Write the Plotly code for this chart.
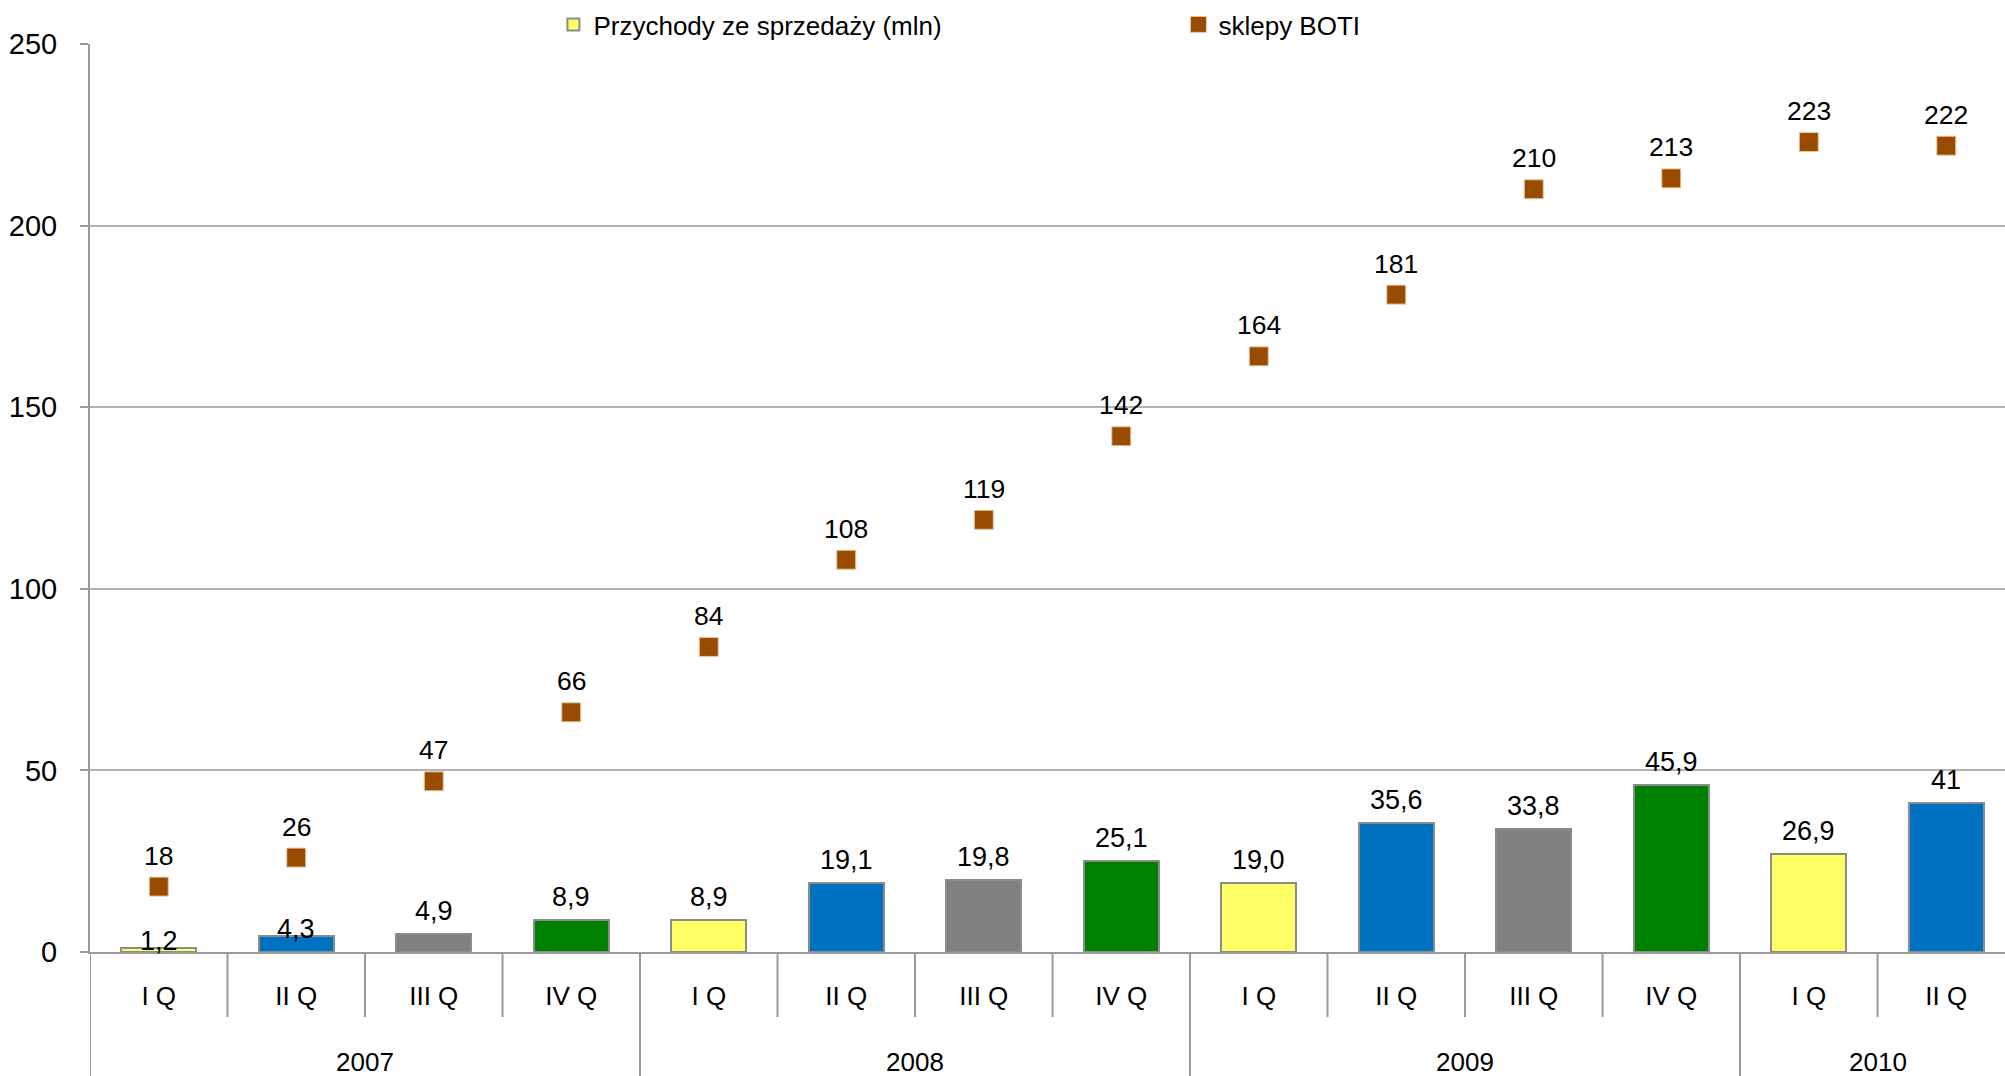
import plotly.graph_objects as go

# Quarterly data: sales revenue (mln) and number of BOTI shops
years = ["2007"] * 4 + ["2008"] * 4 + ["2009"] * 4 + ["2010"] * 2
quarters = ["I Q", "II Q", "III Q", "IV Q"] * 3 + ["I Q", "II Q"]
revenue = [1.2, 4.3, 4.9, 8.9, 8.9, 19.1, 19.8, 25.1, 19.0, 35.6, 33.8, 45.9, 26.9, 41]
revenue_decimals = [1] * 13 + [0]
shops = [18, 26, 47, 66, 84, 108, 119, 142, 164, 181, 210, 213, 223, 222]
y_ticks = [0, 50, 100, 150, 200, 250]

FONT = "Liberation Sans, Arial, sans-serif"
AXIS_GREY = "#999999"
GRID_GREY = "#B3B3B3"
QUARTER_COLORS = {"I Q": "#FFFF66", "II Q": "#0070C0", "III Q": "#808080", "IV Q": "#008000"}
SHOP_COLOR = "#994C00"

# unique category keys, shown on the axis by quarter name
keys = [f"{q} {y}" for q, y in zip(quarters, years)]


def fmt(v, d):
    return f"{v:.{d}f}".replace(".", ",")


fig = go.Figure()

fig.add_trace(go.Bar(
    x=keys,
    y=revenue,
    name="Przychody ze sprzedaży (mln)",
    width=0.545,
    marker=dict(color=[QUARTER_COLORS[q] for q in quarters],
                line=dict(color="#8C8C8C", width=2)),
    hoverinfo="x+y",
))

fig.add_trace(go.Scatter(
    x=keys,
    y=shops,
    name="sklepy BOTI",
    mode="markers",
    marker=dict(symbol="square", size=19, color=SHOP_COLOR,
                line=dict(color="#E8C9A8", width=1)),
))

annotations = []
for k, v, d in zip(keys, revenue, revenue_decimals):
    annotations.append(dict(
        x=k, y=v, xref="x", yref="y", text=fmt(v, d), showarrow=False,
        yanchor="middle", yshift=7 if v < 4.5 else 23,
        font=dict(family=FONT, size=27, color="#000000"),
    ))
for k, v in zip(keys, shops):
    annotations.append(dict(
        x=k, y=v, xref="x", yref="y", text=str(v), showarrow=False,
        yanchor="middle", yshift=31,
        font=dict(family=FONT, size=26.5, color="#000000"),
    ))

# year group labels and dividers below the axis
shapes = []
start = 0
plot_h = 908
for i in range(1, len(years) + 1):
    if i == len(years) or years[i] != years[start]:
        annotations.append(dict(
            x=(start + i - 1) / 2, y=-(110 / plot_h), xref="x", yref="paper",
            text=years[start], showarrow=False, yanchor="middle",
            font=dict(family=FONT, size=26, color="#000000"),
        ))
        shapes.append(dict(type="line", xref="x", yref="paper",
                           x0=start - 0.5, x1=start - 0.5, y0=0, y1=-0.2,
                           line=dict(color=AXIS_GREY, width=2)))
        start = i
for i in range(1, len(years)):
    if years[i] == years[i - 1]:
        shapes.append(dict(type="line", xref="x", yref="paper",
                           x0=i - 0.5, x1=i - 0.5, y0=0, y1=-(65 / plot_h),
                           line=dict(color=AXIS_GREY, width=2)))

fig.update_layout(
    width=2005,
    height=1076,
    margin=dict(l=90, r=0, t=44, b=124),
    paper_bgcolor="white",
    plot_bgcolor="white",
    font=dict(family=FONT, size=26, color="#000000"),
    showlegend=True,
    legend=dict(
        orientation="h", x=0.242, xanchor="left", y=1.0215, yanchor="middle",
        font=dict(family=FONT, size=26, color="#000000"),
        entrywidth=580, entrywidthmode="pixels",
        bgcolor="rgba(0,0,0,0)",
    ),
    annotations=annotations,
    shapes=shapes,
    bargap=0,
)

fig.update_xaxes(
    type="category",
    categoryorder="array",
    categoryarray=keys,
    tickmode="array",
    tickvals=keys,
    ticktext=quarters,
    range=[-0.5, 13.427],
    showline=True, linecolor=AXIS_GREY, linewidth=2,
    ticks="", showgrid=False,
    tickfont=dict(family=FONT, size=26, color="#000000"),
    ticklabelstandoff=20,
)

fig.update_yaxes(
    range=[0, 250],
    tickmode="array",
    tickvals=y_ticks,
    ticktext=[str(t) for t in y_ticks],
    showline=True, linecolor=AXIS_GREY, linewidth=2,
    ticks="outside", ticklen=8, tickcolor=AXIS_GREY, tickwidth=2,
    showgrid=True, gridcolor=GRID_GREY, gridwidth=2,
    zeroline=False,
    tickfont=dict(family=FONT, size=29, color="#000000"),
    ticklabelstandoff=17,
)

fig.write_html("out.html")
